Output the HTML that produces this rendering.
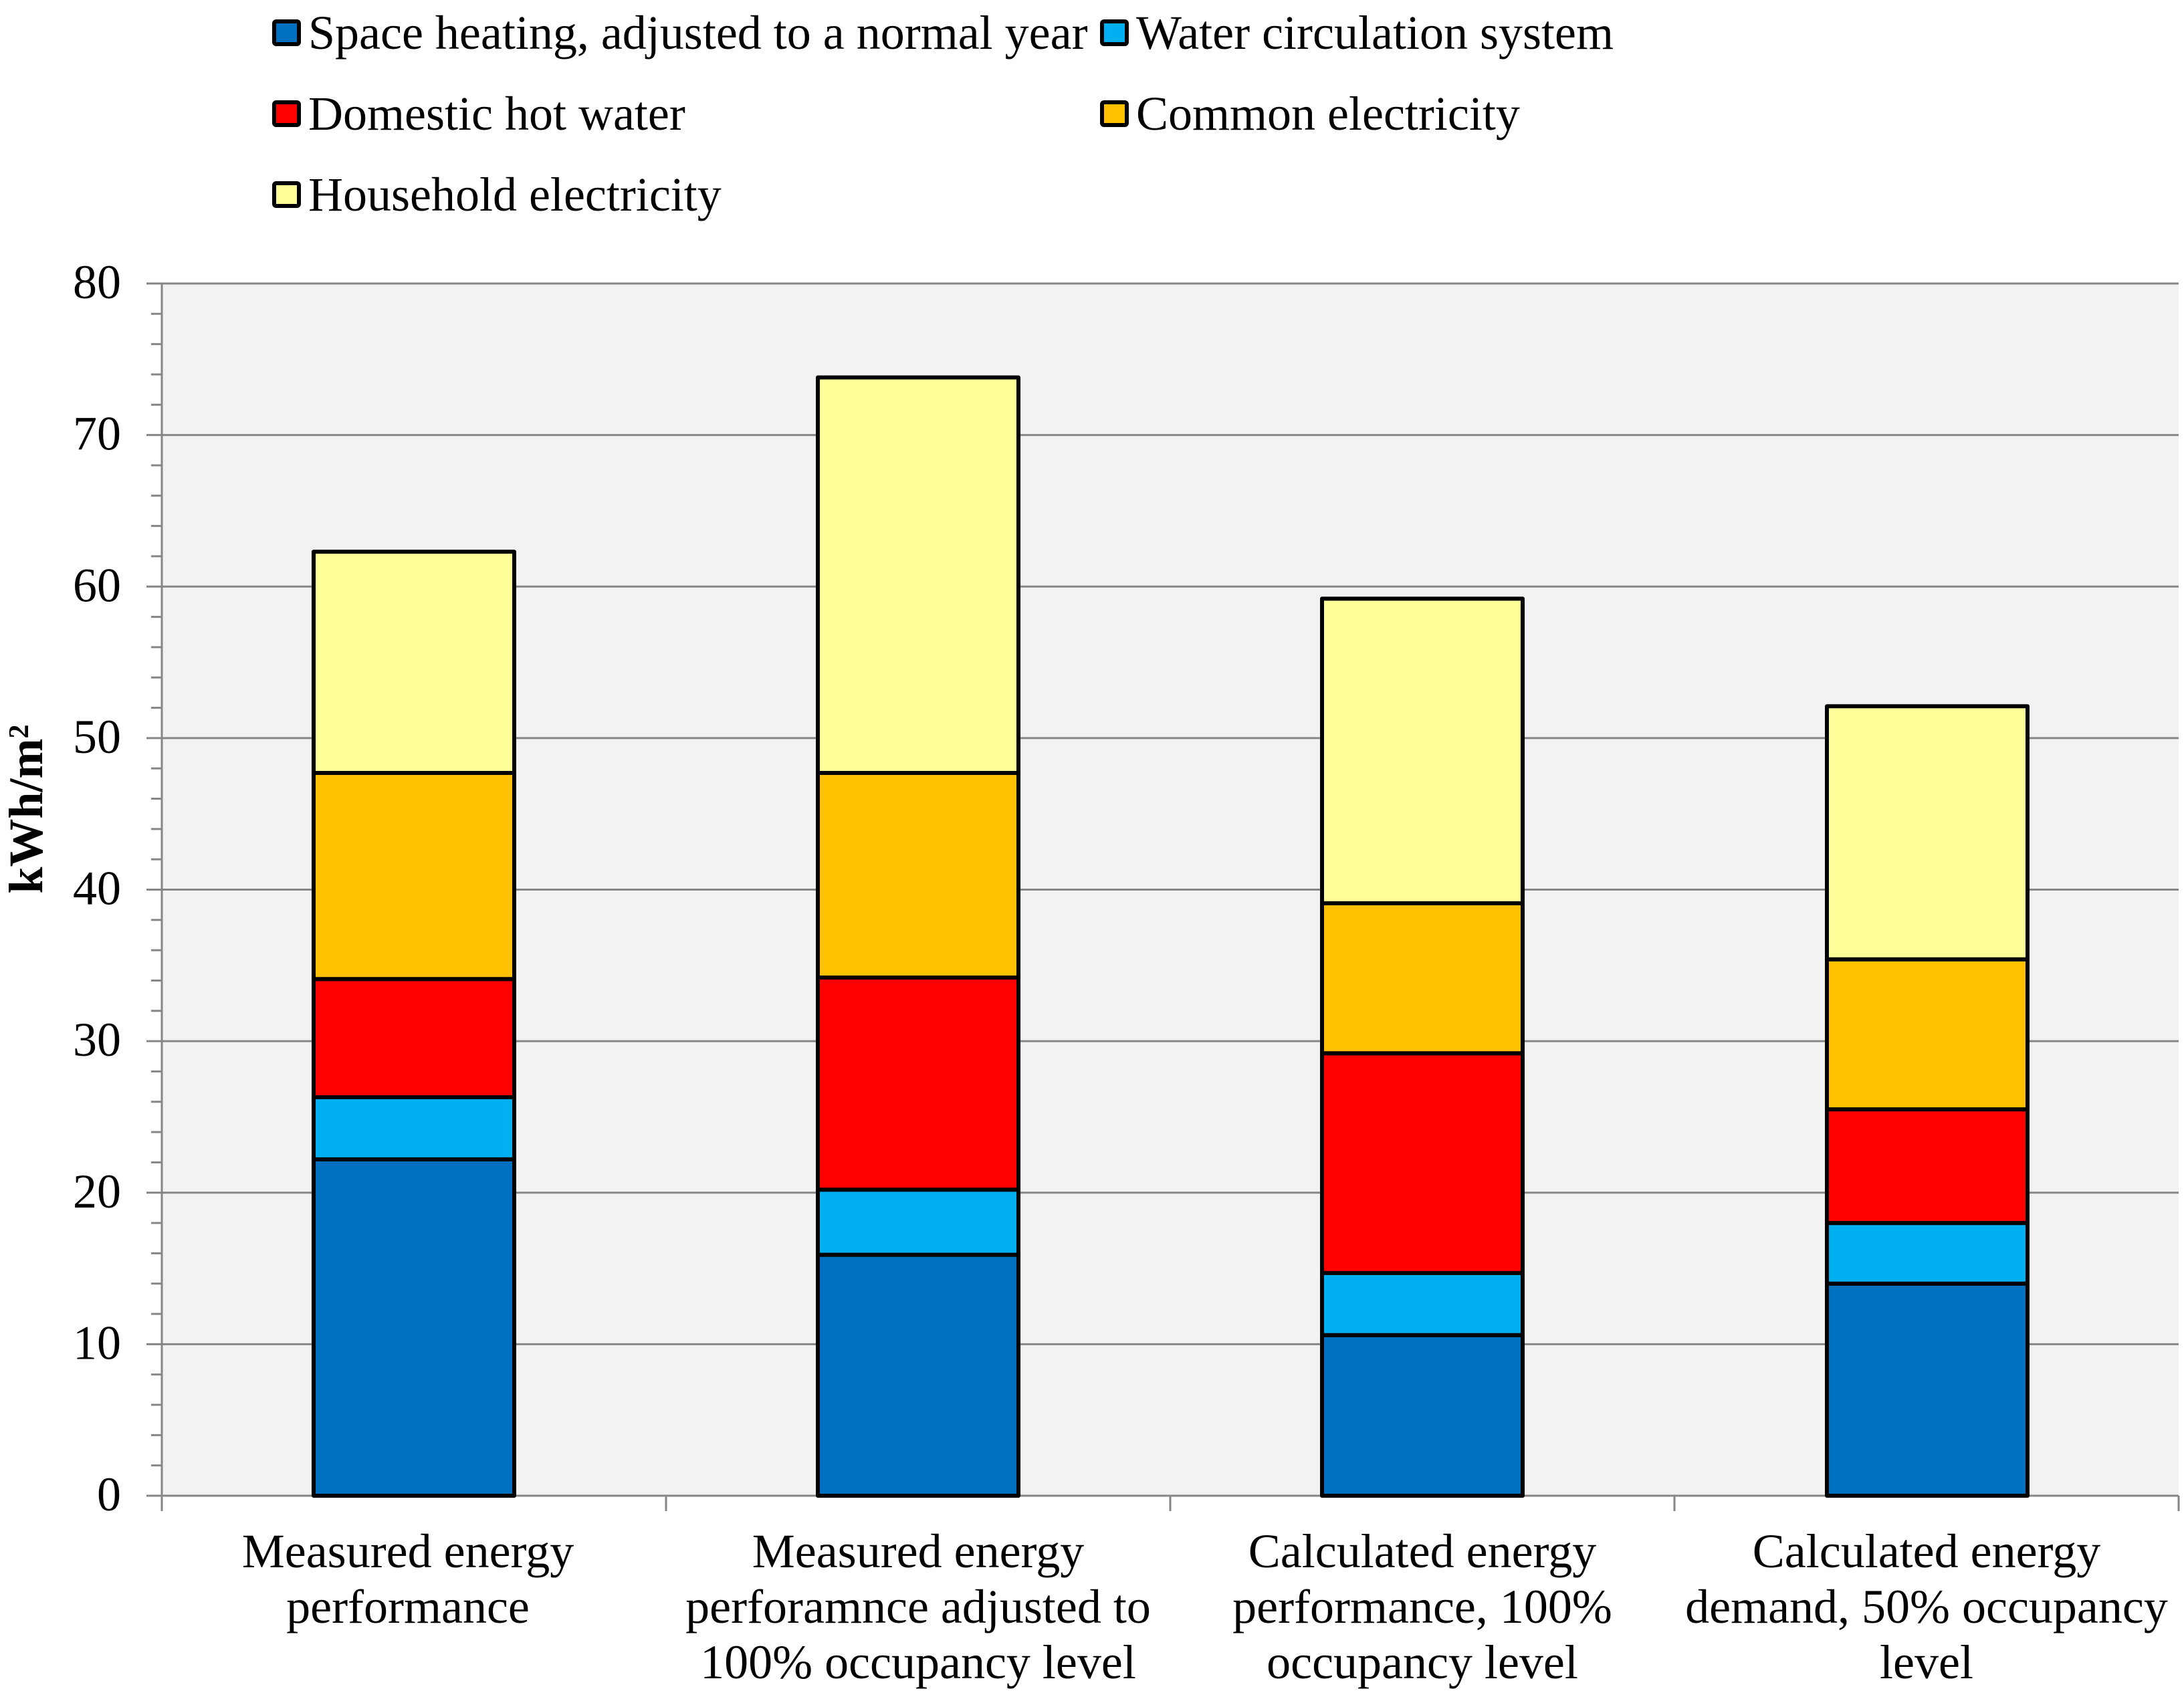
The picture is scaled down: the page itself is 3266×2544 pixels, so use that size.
<!DOCTYPE html>
<html lang="en">
<head>
<meta charset="utf-8">
<title>Energy use per square metre</title>
<style>
html,body{margin:0;padding:0;background:#fff;width:3266px;height:2544px;overflow:hidden}
svg{display:block}
text{font-family:"Liberation Serif",serif;font-size:72px;fill:#000}
</style>
</head>
<body>
<svg id="chart" xmlns="http://www.w3.org/2000/svg" width="3266" height="2544" viewBox="0 0 3266 2544"></svg>
<script>
const categories = [
  ["Measured energy\u00a0", "performance\u00a0"],
  ["Measured energy", "perforamnce adjusted to", "100% occupancy level"],
  ["Calculated energy", "performance, 100%", "occupancy level"],
  ["Calculated energy", "demand, 50% occupancy", "level"]
];
const seriesNames = ["Space heating, adjusted to a normal year", "Water circulation system", "Domestic hot water", "Common electricity", "Household electricity"];
const spaceHeating = [22.2, 15.9, 10.6, 14.0];
const waterCirculation = [4.1, 4.3, 4.1, 4.0];
const domesticHotWater = [7.8, 14.0, 14.5, 7.5];
const commonElectricity = [13.6, 13.5, 9.9, 9.9];
const householdElectricity = [14.6, 26.1, 20.1, 16.7];
const yTicks = [0, 10, 20, 30, 40, 50, 60, 70, 80];
const yMinorTicks = [2, 4, 6, 8, 12, 14, 16, 18, 22, 24, 26, 28, 32, 34, 36, 38, 42, 44, 46, 48, 52, 54, 56, 58, 62, 64, 66, 68, 72, 74, 76, 78];

const seriesValues = [spaceHeating, waterCirculation, domesticHotWater, commonElectricity, householdElectricity];
const seriesColors = ["#0070C0", "#00B0F0", "#FF0000", "#FFC000", "#FFFF99"];
const seriesKeys = ["space-heating", "water-circulation", "domestic-hot-water", "common-electricity", "household-electricity"];

const svg = document.getElementById("chart");
const NS = "http://www.w3.org/2000/svg";
const plot = {left: 242, right: 3258, top: 424, bottom: 2237};
const yMax = 80;
const barWidth = 300;

function yScale(v) { return plot.bottom - (v / yMax) * (plot.bottom - plot.top); }
function xBand() { return (plot.right - plot.left) / categories.length; }
function xCenter(i) { return plot.left + xBand() * (i + 0.5) + (i === 3 ? 1 : 0); }
function make(tag, attrs, text) {
  const el = document.createElementNS(NS, tag);
  for (const k in attrs) el.setAttribute(k, attrs[k]);
  if (text !== undefined) el.textContent = text;
  svg.appendChild(el);
  return el;
}
function line(x1, y1, x2, y2, width) {
  return make("line", {x1: x1, y1: y1, x2: x2, y2: y2, stroke: "#868686", "stroke-width": width});
}

/* plot background */
const bg = make("rect", {x: plot.left, y: plot.top, width: plot.right - plot.left, height: plot.bottom - plot.top, fill: "#F2F2F2"});



/* gridlines + major ticks */
yTicks.forEach(function (t) {
  const g = line(219, yScale(t), plot.right, yScale(t), 3);
  
  
  const lab = make("text", {x: 181, y: yScale(t) + 22, "text-anchor": "end"}, String(t));
  
  
});

/* minor ticks */
yMinorTicks.forEach(function (t) {
  const m = line(226, yScale(t), plot.left, yScale(t), 3);
  
  
});

/* axes */
const yAxis = line(plot.left, plot.top, plot.left, 2260, 3);


for (let i = 1; i <= categories.length; i++) {
  const xt = line(plot.left + xBand() * i, plot.bottom, plot.left + xBand() * i, 2260, 3);
  
  
}

/* stacked bars */
categories.forEach(function (labelLines, c) {
  let base = 0;
  seriesValues.forEach(function (vals, s) {
    const y0 = yScale(base);
    const y1 = yScale(base + vals[c]);
    const r = make("rect", {
      x: xCenter(c) - barWidth / 2,
      y: y1,
      width: barWidth,
      height: y0 - y1,
      fill: seriesColors[s],
      stroke: "#000",
      "stroke-width": 6,
      "stroke-linejoin": "round"
    });
    
    
    base += vals[c];
  });
  labelLines.forEach(function (txt, l) {
    const t = make("text", {x: plot.left + xBand() * (c + 0.5), y: 2344 + l * 83, "text-anchor": "middle"}, txt);
    
    
  });
});

/* y axis title */
const yTitle = make("text", {transform: "translate(63,1210) rotate(-90)", "text-anchor": "middle", "font-weight": "bold"}, "kWh/m");


const yTitleSup = document.createElementNS(NS, "tspan");
yTitleSup.setAttribute("dy", "-21");
yTitleSup.setAttribute("style", "font-size:42px");
yTitleSup.textContent = "2";


yTitle.appendChild(yTitleSup);

/* legend: row/col layout follows the order of the series */
seriesNames.forEach(function (name, i) {
  const order = [[0, 0], [1, 0], [0, 1], [1, 1], [0, 2]][i];
  const col = order[0];
  const row = order[1];
  const mx = col === 0 ? 410 : 1648;
  const tx = col === 0 ? 461 : 1699;
  const cy = 49 + row * 121;
  const sw = make("rect", {x: mx, y: cy - 17, width: 37, height: 34, rx: 3, fill: seriesColors[i], stroke: "#000", "stroke-width": 6});
  
  
  const lt = make("text", {x: tx, y: cy + 24}, name);
  
  
});
</script>
</body>
</html>
